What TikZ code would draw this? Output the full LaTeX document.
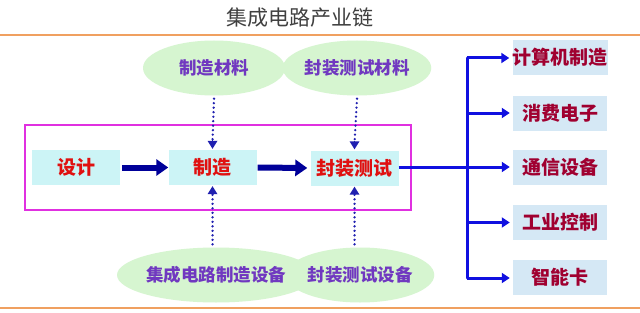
\documentclass[tikz,border=0pt]{standalone}
\usepackage{fontspec}
\setmainfont{Noto Sans CJK SC}
\usetikzlibrary{arrows.meta,shapes.geometric}
\definecolor{orangeline}{HTML}{F0A060}
\definecolor{ellgreen}{HTML}{D6F5D0}
\definecolor{boxcyan}{HTML}{CCF4F6}
\definecolor{boxblue}{HTML}{D5E8F5}
\definecolor{txtred}{HTML}{E01010}
\definecolor{txtpurple}{HTML}{7038C0}
\definecolor{txtcrimson}{HTML}{A00030}
\definecolor{darkblue}{HTML}{000099}
\definecolor{linkblue}{HTML}{1010E0}
\definecolor{dotblue}{HTML}{2020B0}
\definecolor{magentabox}{HTML}{E030E0}
\tikzset{
  mainbox/.style={fill=boxcyan, minimum width=88pt, minimum height=35pt, inner sep=0pt, text=txtred, font=\bfseries\fontsize{19}{19}\selectfont},
  ell/.style={ellipse, fill=ellgreen, minimum width=142pt, minimum height=55pt, inner sep=0pt, text=txtpurple, font=\bfseries\fontsize{17.5}{17.5}\selectfont},
  outbox/.style={fill=boxblue, minimum width=94pt, minimum height=35pt, inner sep=0pt, text=txtcrimson, font=\bfseries\fontsize{19}{19}\selectfont},
  thickarrow/.style={darkblue, line width=6pt, -{Triangle[length=12pt,width=16pt]}},
  dotline/.style={dotblue, line width=2.6pt, line cap=round, dash pattern=on 0pt off 4.5pt},
  dottip/.style={dotblue, line width=0pt, -{Triangle[length=8pt,width=10pt]}},
  treeline/.style={linkblue, line width=3pt},
  treearrow/.style={linkblue, line width=3pt, -{Triangle[length=8pt,width=10pt]}}
}
\begin{document}
\begin{tikzpicture}[x=1pt,y=-1pt]
\useasboundingbox (0,0) rectangle (640,313);
\fill[white] (0,0) rectangle (640,313);
% title and rules
\node (title) at (300,18) {\fontsize{21}{21}\selectfont\color{black!75}集成电路产业链};
\coordinate (tl) at (0,35); \coordinate (tr) at (640,35);
\coordinate (bl) at (0,308); \coordinate (br) at (640,308);
\draw[orangeline, line width=2pt] (tl) -- (tr);
\draw[orangeline, line width=2pt] (bl) -- (br);
% ellipses
\node[ell] (e1) at (214,68) {制造材料};
\node[ell] (e2) at (357,68) {封装测试材料};
\node[ell, minimum width=150pt] (e3) at (216,275) {集成电路制造设备};
\node[ell] (e4) at (360,275) {封装测试设备};
% magenta frame
\node[draw=magentabox, line width=2pt, minimum width=386pt, minimum height=85pt, inner sep=0pt] (frame) at (218,167.5) {};
% main boxes
\node[mainbox] (d) at (76,167.5) {设计};
\node[mainbox] (m) at (212.5,167.5) {制造};
\node[mainbox] (p) at (354.5,168) {封装测试};
\draw[thickarrow] (d.east) ++(2,0) coordinate (d1) -- (m.west);
\draw[thickarrow] (m.east) ++(1,0) coordinate (m1) -- ([xshift=-3pt]p.west);
% dotted arrows
\coordinate (t1) at ([yshift=8pt]m.north);
\coordinate (t2) at ([yshift=8pt]p.north);
\coordinate (b1) at ([yshift=-8pt]m.south);
\coordinate (b2) at ([yshift=-8pt]p.south);
\draw[dotline] ([yshift=-3pt]e1.south) -- (t1);
\draw[dotline] ([yshift=-3pt]e2.south) -- (t2);
\draw[dotline] ([yshift=3pt]e3.north -| m.south) -- (b1);
\draw[dotline] ([yshift=3pt]e4.north -| p.south) -- (b2);
\draw[dottip] (t1) -- ([yshift=1pt]m.north);
\draw[dottip] (t2) -- ([yshift=1pt]p.north);
\draw[dottip] (b1) -- ([yshift=-1pt]m.south);
\draw[dottip] (b2) -- ([yshift=-1pt]p.south);
% output boxes
\node[outbox] (o1) at (560,57.5) {计算机制造};
\node[outbox] (o2) at (560,113) {消费电子};
\node[outbox] (o3) at (560,167.5) {通信设备};
\node[outbox] (o4) at (560,222.5) {工业控制};
\node[outbox] (o5) at (560,277.5) {智能卡};
% tree
\coordinate (j) at (467,167);
\coordinate (jt) at (467,58);
\coordinate (jb) at (467,278);
\draw[treeline] (p.east |- j) -- (j);
\draw[treeline, line cap=round] (jt) -- (jb);
\draw[treearrow] (jt) -- ([xshift=-3pt]o1.west |- jt);
\draw[treearrow] (j |- o2.west) -- ([xshift=-3pt]o2.west);
\draw[treearrow] (j) -- ([xshift=-3pt]o3.west |- j);
\draw[treearrow] (j |- o4.west) -- ([xshift=-3pt]o4.west);
\draw[treearrow] (jb) -- ([xshift=-3pt]o5.west |- jb);
\end{tikzpicture}
\end{document}
